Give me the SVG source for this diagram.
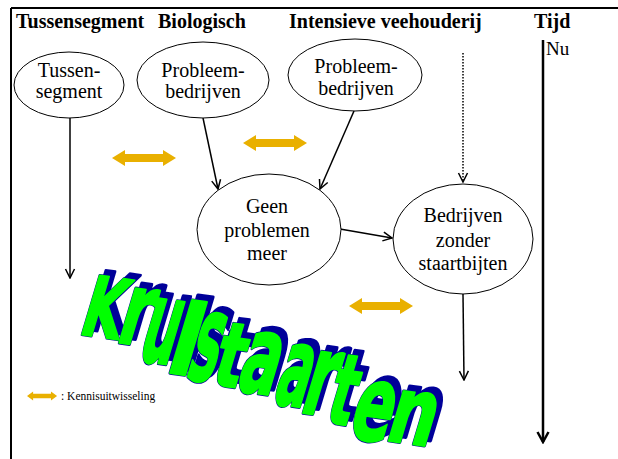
<svg xmlns="http://www.w3.org/2000/svg" xmlns:xlink="http://www.w3.org/1999/xlink" width="618" height="459" viewBox="0 0 618 459">
<style>
.hdr{font-family:"Liberation Serif","Times New Roman",serif;font-weight:bold;font-size:20px;fill:#000}
.lbl{font-family:"Liberation Serif","Times New Roman",serif;font-size:20px;fill:#000;text-anchor:middle}
.node ellipse{fill:#fff;stroke:#000;stroke-width:1}
.conn line{stroke:#000;stroke-width:1.5;fill:none}
.gold{fill:#E9B000}
</style>
<defs>
<marker id="ah" viewBox="-11 -6 12 12" refX="0" refY="0" markerWidth="12" markerHeight="12" markerUnits="userSpaceOnUse" orient="auto">
<path d="M-9,-4.5 L0,0 L-9,4.5" fill="none" stroke="#000" stroke-width="1.5"/>
</marker>
<marker id="ahBig" viewBox="-12 -7 14 14" refX="0" refY="0" markerWidth="14" markerHeight="14" markerUnits="userSpaceOnUse" orient="auto">
<path d="M-10,-5.5 L0,0 L-10,5.5" fill="none" stroke="#000" stroke-width="2.5"/>
</marker>
<path id="dbl" d="M0,0 L13,-8 L13,-4 L51,-4 L51,-8 L64,0 L51,8 L51,4 L13,4 L13,8 Z"/>
<g id="word" font-family="'DejaVu Sans Condensed','DejaVu Sans',sans-serif" font-stretch="condensed" font-weight="bold" font-size="40" stroke-linejoin="round">
<text transform="translate(77,334) skewY(8) skewX(-16) scale(1.45,2.12)">K</text>
<text transform="translate(114,342) skewY(8) skewX(-16) scale(1.69,2.59)">r</text>
<text transform="translate(136,360) skewY(8) skewX(-16) scale(1.35,2.95)">u</text>
<text transform="translate(163,372) skewY(8) skewX(-16) scale(2.37,2.5)">l</text>
<text transform="translate(184,378) skewY(8) skewX(-16) scale(1.33,3.1)">s</text>
<text transform="translate(209,384) skewY(8) skewX(-16) scale(1.64,2.28)">t</text>
<text transform="translate(234,390) skewY(8) skewX(-16) scale(1.59,2.77)">a</text>
<text transform="translate(271,403) skewY(8) skewX(-16) scale(1.35,2.8)">a</text>
<text transform="translate(298,412) skewY(8) skewX(-16) scale(1.62,2.9)">r</text>
<text transform="translate(323,422) skewY(8) skewX(-16) scale(1.45,2.5)">t</text>
<text transform="translate(346,437) skewY(8) skewX(-16) scale(1.65,2.68)">e</text>
<text transform="translate(383,440) skewY(8) skewX(-16) scale(1.83,2.37)">n</text>
</g>
</defs>

<rect width="618" height="459" fill="#fff"/>

<!-- frame -->
<g id="frame" stroke="#000" stroke-width="2" fill="none">
<line x1="11" y1="8" x2="618" y2="8"/>
<line x1="11" y1="8" x2="11" y2="459"/>
</g>

<!-- headers -->
<g id="headers">
<text class="hdr" x="16" y="28">Tussensegment</text>
<text class="hdr" x="158" y="28">Biologisch</text>
<text class="hdr" x="289" y="28">Intensieve veehouderij</text>
<text class="hdr" x="534" y="28">Tijd</text>
</g>

<!-- WordArt -->
<g id="wordart">
<use xlink:href="#word" transform="translate(6,-5)" fill="#000099" stroke="#000099" stroke-width="1.4"/>
<use xlink:href="#word" fill="#000099" stroke="#000099" stroke-width="1.4"/>
<use xlink:href="#word" fill="#00FF00" stroke="#00FF00" stroke-width="0.9"/>
</g>

<!-- connectors -->
<g id="connectors" class="conn">
<line x1="70" y1="118" x2="70" y2="278" marker-end="url(#ah)"/>
<line x1="203" y1="118" x2="218" y2="189" marker-end="url(#ah)"/>
<line x1="354" y1="111" x2="320" y2="189" marker-end="url(#ah)"/>
<line x1="340" y1="229" x2="392" y2="238" marker-end="url(#ah)"/>
<line x1="463" y1="53" x2="463" y2="182" stroke-dasharray="1.5 1.5" marker-end="url(#ah)"/>
<line x1="463" y1="294" x2="464" y2="380" marker-end="url(#ah)"/>
<line x1="543" y1="40" x2="543" y2="442" style="stroke-width:2.5" marker-end="url(#ahBig)"/>
</g>

<!-- knowledge exchange arrows -->
<g id="exchange">
<use xlink:href="#dbl" class="gold" transform="translate(112,158)"/>
<use xlink:href="#dbl" class="gold" transform="translate(243,143)"/>
<use xlink:href="#dbl" class="gold" transform="translate(349,306)"/>
</g>

<!-- nodes -->
<g id="n-tussensegment" class="node">
<ellipse cx="69" cy="85" rx="55" ry="33"/>
<text class="lbl" x="69" y="77">Tussen-</text>
<text class="lbl" x="69" y="98">segment</text>
</g>
<g id="n-bio-probleem" class="node">
<ellipse cx="203" cy="80" rx="66" ry="38"/>
<text class="lbl" x="203" y="77">Probleem-</text>
<text class="lbl" x="203" y="98">bedrijven</text>
</g>
<g id="n-int-probleem" class="node">
<ellipse cx="355" cy="75" rx="67" ry="36"/>
<text class="lbl" x="356" y="73">Probleem-</text>
<text class="lbl" x="356" y="95">bedrijven</text>
</g>
<g id="n-geen" class="node">
<ellipse cx="269" cy="229.5" rx="72" ry="55.5"/>
<text class="lbl" x="267" y="213">Geen</text>
<text class="lbl" x="267" y="237">problemen</text>
<text class="lbl" x="267" y="260">meer</text>
</g>
<g id="n-zonder" class="node">
<ellipse cx="463" cy="239" rx="70" ry="55"/>
<text class="lbl" x="463" y="222">Bedrijven</text>
<text class="lbl" x="463" y="247">zonder</text>
<text class="lbl" x="463" y="270">staartbijten</text>
</g>

<!-- time label -->
<text id="nu" x="546" y="55" style="font-family:'Liberation Serif','Times New Roman',serif;font-size:19px">Nu</text>

<!-- legend -->
<g id="legend">
<use xlink:href="#dbl" class="gold" transform="translate(27,396) scale(0.47,0.56)"/>
<text x="61" y="400" style="font-family:'Liberation Serif','Times New Roman',serif;font-size:11.5px">: Kennisuitwisseling</text>
</g>
</svg>
